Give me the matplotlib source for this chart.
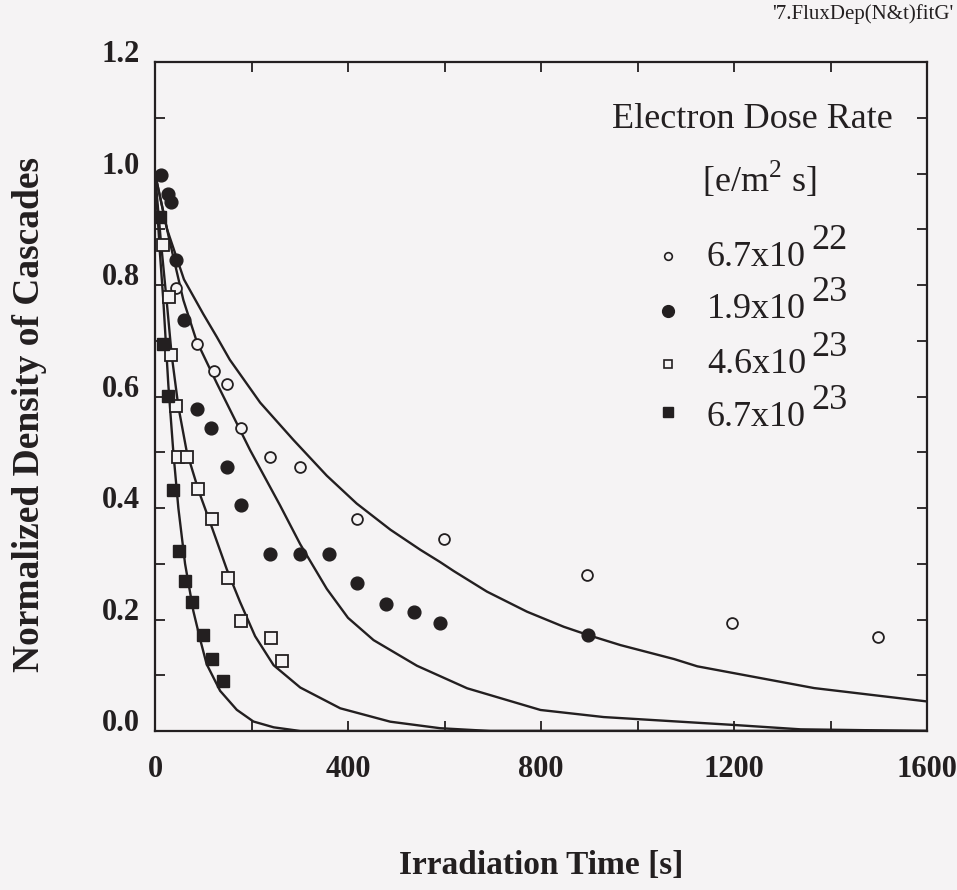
import matplotlib
matplotlib.use("Agg")
import matplotlib.pyplot as plt
from matplotlib.ticker import MultipleLocator, FixedLocator

plt.rcParams['font.family'] = ['Liberation Serif', 'DejaVu Serif']
plt.rcParams['mathtext.fontset'] = 'custom'
plt.rcParams['mathtext.rm'] = 'Liberation Serif'

# ---- measured cascade densities (normalized) vs irradiation time [s] ----
t_67e22 = [43.6, 87.8, 122, 150, 178, 239, 301, 418.5, 598, 896, 1195, 1498]
n_67e22 = [0.794, 0.694, 0.646, 0.622, 0.544, 0.492, 0.474, 0.381, 0.344, 0.280, 0.193, 0.169]

t_19e23 = [11.8, 27.7, 33, 43.6, 60, 87.8, 116, 150, 178.5, 238.6, 301, 361,
           418.5, 478.7, 537.5, 591, 898]
n_19e23 = [0.997, 0.964, 0.948, 0.844, 0.738, 0.578, 0.544, 0.473, 0.405, 0.317,
           0.317, 0.317, 0.265, 0.227, 0.213, 0.193, 0.172]

t_46e23 = [16, 29.7, 32.6, 43, 48, 67, 90, 117.6, 151, 178.5, 240, 263]
n_46e23 = [0.872, 0.779, 0.674, 0.583, 0.492, 0.492, 0.434, 0.381, 0.275, 0.197, 0.167, 0.126]

t_67e23 = [10.4, 17.2, 27.7, 38, 50.5, 62, 77.5, 100, 117.6, 140.4]
n_67e23 = [0.922, 0.695, 0.601, 0.432, 0.323, 0.269, 0.231, 0.172, 0.129, 0.090]

# ---- fitted curves ----
fit_t_67e22 = [0, 25, 60, 100, 128, 155, 218, 287, 356, 418, 488, 550, 591, 619, 688,
               771, 847, 898, 965, 1076, 1124, 1366, 1600]
fit_n_67e22 = [1.0, 0.90, 0.81, 0.748, 0.707, 0.666, 0.589, 0.522, 0.458, 0.408, 0.361,
               0.325, 0.303, 0.287, 0.250, 0.214, 0.187, 0.172, 0.154, 0.129,
               0.116, 0.077, 0.053]

fit_t_19e23 = [0, 30, 58.8, 86, 128, 197, 259, 301, 356, 400, 453, 543, 647, 799, 930,
               1197, 1338, 1600]
fit_n_19e23 = [1.0, 0.88, 0.773, 0.70, 0.624, 0.504, 0.405, 0.335, 0.255, 0.203, 0.163,
               0.117, 0.0766, 0.0377, 0.025, 0.011, 0.003, 0.0]

fit_t_46e23 = [0, 12, 24, 34.6, 48.4, 65.8, 90, 117.6, 148.8, 176, 207.5, 245.8,
               301, 384, 487.6, 591, 695, 1600]
fit_n_46e23 = [1.0, 0.88, 0.773, 0.674, 0.582, 0.501, 0.432, 0.366, 0.29, 0.232,
               0.17, 0.118, 0.078, 0.0407, 0.0167, 0.005, 0.0, 0.0]

fit_t_67e23 = [0, 10, 17.2, 27.7, 38, 48.4, 62.3, 79.5, 94, 107, 135, 169.5, 204,
               246, 301, 1600]
fit_n_67e23 = [1.0, 0.86, 0.773, 0.62, 0.50, 0.40, 0.30, 0.215, 0.163, 0.12,
               0.072, 0.038, 0.017, 0.0066, 0.0, 0.0]

# legend contents
legend_title = "Electron Dose Rate"
legend_unit = r"[e/m$^\mathregular{2}$ s]"
dose_mantissa = ["6.7x10", "1.9x10", "4.6x10", "6.7x10"]
dose_exponent = ["22", "23", "23", "23"]

x_ticks_labeled = [0, 400, 800, 1200, 1600]
y_ticks_labeled = [0.0, 0.2, 0.4, 0.6, 0.8, 1.0, 1.2]

INK = "#231f20"
BG = "#f5f3f4"
W, H = 957, 890

fig = plt.figure(figsize=(W / 100, H / 100), dpi=100, facecolor=BG)
ax = fig.add_axes([155 / W, 1 - 731 / H, 772 / W, 669 / H])
ax.set_facecolor(BG)


def fxy(px, py):
    """pixel position on the canvas -> figure fraction"""
    return px / W, 1 - py / H


# fitted curves
for ft, fn in [(fit_t_67e22, fit_n_67e22), (fit_t_19e23, fit_n_19e23),
               (fit_t_46e23, fit_n_46e23), (fit_t_67e23, fit_n_67e23)]:
    ax.plot(ft, fn, color=INK, lw=1.7, solid_joinstyle='round', zorder=2)

# measured points
ax.plot(t_67e22, n_67e22, ls='none', marker='o', ms=7.8, mfc=BG, mec=INK, mew=1.3, zorder=3)
ax.plot(t_19e23, n_19e23, ls='none', marker='o', ms=9.2, mfc=INK, mec=INK, mew=1.0, zorder=3)
ax.plot(t_46e23, n_46e23, ls='none', marker='s', ms=8.0, mfc=BG, mec=INK, mew=1.3, zorder=3)
ax.plot(t_67e23, n_67e23, ls='none', marker='s', ms=8.0, mfc=INK, mec=INK, mew=1.0, zorder=3)

ax.set_xlim(0, 1600)
ax.set_ylim(0, 1.2)

ax.xaxis.set_major_locator(FixedLocator(x_ticks_labeled))
ax.xaxis.set_minor_locator(MultipleLocator(200))
ax.yaxis.set_major_locator(FixedLocator(y_ticks_labeled))
ax.yaxis.set_minor_locator(MultipleLocator(0.1))
ax.set_xticklabels([f"{v:d}" for v in x_ticks_labeled])
ax.set_yticklabels([f"{v:.1f}" for v in y_ticks_labeled])

ax.tick_params(which='both', direction='in', top=True, right=True,
               length=7, width=1.3, color=INK)
ax.tick_params(axis='x', which='major', pad=17, labelsize=22, labelcolor=INK)
ax.tick_params(axis='y', which='major', pad=11, labelsize=22, labelcolor=INK)
for lab in ax.get_xticklabels() + ax.get_yticklabels():
    lab.set_fontweight('bold')
for lab in ax.get_yticklabels():
    lab.set_verticalalignment('baseline')

for sp in ax.spines.values():
    sp.set_linewidth(1.6)
    sp.set_color(INK)

# axis titles
fig.text(*fxy(541, 866), "Irradiation Time [s]", ha='center', va='center',
         fontsize=24, fontweight='bold', color=INK)
fig.text(*fxy(30, 414), "Normalized Density of Cascades", ha='center', va='center',
         rotation=90, fontsize=27, fontweight='bold', color=INK)

# file tag in the top corner
fig.text(*fxy(953, 14), "'7.FluxDep(N&t)fitG'", ha='right', va='center',
         fontsize=15, color=INK)

# legend
fig.text(*fxy(752, 128), legend_title, ha='center', va='baseline', fontsize=26, color=INK)
fig.text(*fxy(702, 192), legend_unit, ha='left', va='baseline', fontsize=26, color=INK)

row_base = [266, 318, 373, 426]
marker_y = [256, 311, 364, 412]
marker_kw = [
    dict(marker='o', ms=5.5, mfc=BG, mec=INK, mew=1.2),
    dict(marker='o', ms=8.5, mfc=INK, mec=INK, mew=1.0),
    dict(marker='s', ms=5.8, mfc=BG, mec=INK, mew=1.2),
    dict(marker='s', ms=6.5, mfc=INK, mec=INK, mew=1.0),
]
for mant, expo, yb, ym, kw in zip(dose_mantissa, dose_exponent, row_base, marker_y, marker_kw):
    mx, my = fxy(668, ym)
    fig.lines.append(plt.Line2D([mx], [my], transform=fig.transFigure, ls='none', **kw))
    fig.text(*fxy(707, yb), mant, ha='left', va='baseline', fontsize=26, color=INK)
    fig.text(*fxy(811, yb - 17), expo, ha='left', va='baseline', fontsize=26, color=INK)

fig.savefig("out.png", dpi=100, facecolor=BG)
